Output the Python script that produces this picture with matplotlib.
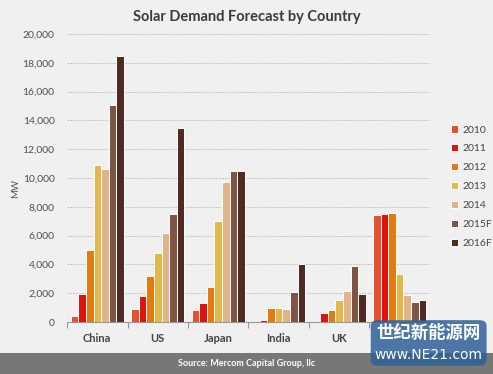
import matplotlib
matplotlib.use("Agg")
from matplotlib import pyplot as plt
from matplotlib.patches import Rectangle, FancyBboxPatch
import numpy as np

countries = ["China", "US", "Japan", "India", "UK", "Germany"]
years = ["2010", "2011", "2012", "2013", "2014", "2015F", "2016F"]
colors = ["#e84f30", "#e0130f", "#e47a12", "#e2b84c", "#e2b386", "#7e5545", "#4f2b21"]

# MW per year, one list per country
china = [450, 1950, 5000, 10900, 10600, 15100, 18500]
us = [900, 1800, 3200, 4800, 6200, 7500, 13500]
japan = [850, 1350, 2450, 7000, 9700, 10500, 10500]
india = [0, 120, 1000, 1000, 900, 2100, 4000]
uk = [0, 650, 850, 1550, 2150, 3900, 1950]
germany = [7400, 7500, 7600, 3300, 1900, 1400, 1500]

values = np.array([china, us, japan, india, uk, germany])

plt.rcParams['font.family'] = ['Lato', 'DejaVu Sans']
bg = "#f0f0f0"

fig = plt.figure(figsize=(4.93, 3.74), dpi=100, facecolor=bg)
ax = fig.add_axes([0.136, 0.139, 0.736, 0.770], facecolor=bg)

x = np.arange(len(countries))
step = 0.125
for i, yr in enumerate(years):
    ax.bar(x + (i - 3) * step, values[:, i], width=step, color=colors[i],
           edgecolor="white", linewidth=0.7, label=yr, zorder=3)

ax.set_xlim(-0.5, 5.5)
ax.set_ylim(0, 20000)
ax.set_yticks(np.arange(0, 20001, 2000))
ax.set_yticklabels([f"{v:,}" for v in range(0, 20001, 2000)])
ax.yaxis.grid(True, linestyle=(0, (2, 1.5)), color="#b8b8b8", linewidth=0.6, zorder=0)
ax.tick_params(axis="y", length=0, labelsize=7.5, labelcolor="#505050", pad=9)

ax.set_xticks(x)
ax.set_xticklabels(countries, fontsize=8, fontweight="bold", color="#444444")
# the last category label sits under the watermark in the original
ax.get_xticklabels()[-1].set_visible(False)
ax.set_xticks(np.arange(-0.5, 6, 1), minor=True)
ax.tick_params(axis="x", which="major", length=0, pad=8)
ax.tick_params(axis="x", which="minor", length=4, color="#999999", width=0.8)

for s in ["top", "right", "left"]:
    ax.spines[s].set_visible(False)
ax.spines["bottom"].set_color("#999999")
ax.spines["bottom"].set_linewidth(0.8)

ax.set_ylabel("MW", fontsize=7, color="#555555")
ax.yaxis.set_label_coords(-0.13, 0.465)

fig.text(0.5, 0.955, "Solar Demand Forecast by Country", ha="center", va="center",
         fontsize=10.5, fontweight="bold", color="#3a3a3a")

fig.legend(loc="upper left", bbox_to_anchor=(0.895, 0.69), frameon=False,
           fontsize=7.5, labelcolor="#444444", handlelength=0.7, handleheight=0.7,
           handletextpad=0.4, labelspacing=0.92)

# footer bar
fig.patches.append(Rectangle((0, 0), 1, 0.056, transform=fig.transFigure,
                             facecolor="#777777", edgecolor="none"))
fig.text(0.5, 0.028, "Source: Mercom Capital Group, llc", ha="center", va="center",
         fontsize=6.5, fontweight="bold", color="white")

# watermark
fig.patches.append(FancyBboxPatch((0.752, 0.022), 0.235, 0.122, transform=fig.transFigure,
                                  boxstyle="round,pad=0,rounding_size=0.015",
                                  facecolor="#2f6198", edgecolor="none", alpha=0.85,
                                  zorder=10))
fig.text(0.869, 0.11, "世纪新能源网", ha="center", va="center", fontsize=12.5,
         fontweight="bold", color="white", family=['Noto Sans CJK SC', 'DejaVu Sans'],
         zorder=11)
fig.text(0.869, 0.052, "www.NE21.com", ha="center", va="center", fontsize=10,
         color="white", family=['DejaVu Sans'], zorder=11)

fig.savefig("out.png", dpi=100, facecolor=bg)
